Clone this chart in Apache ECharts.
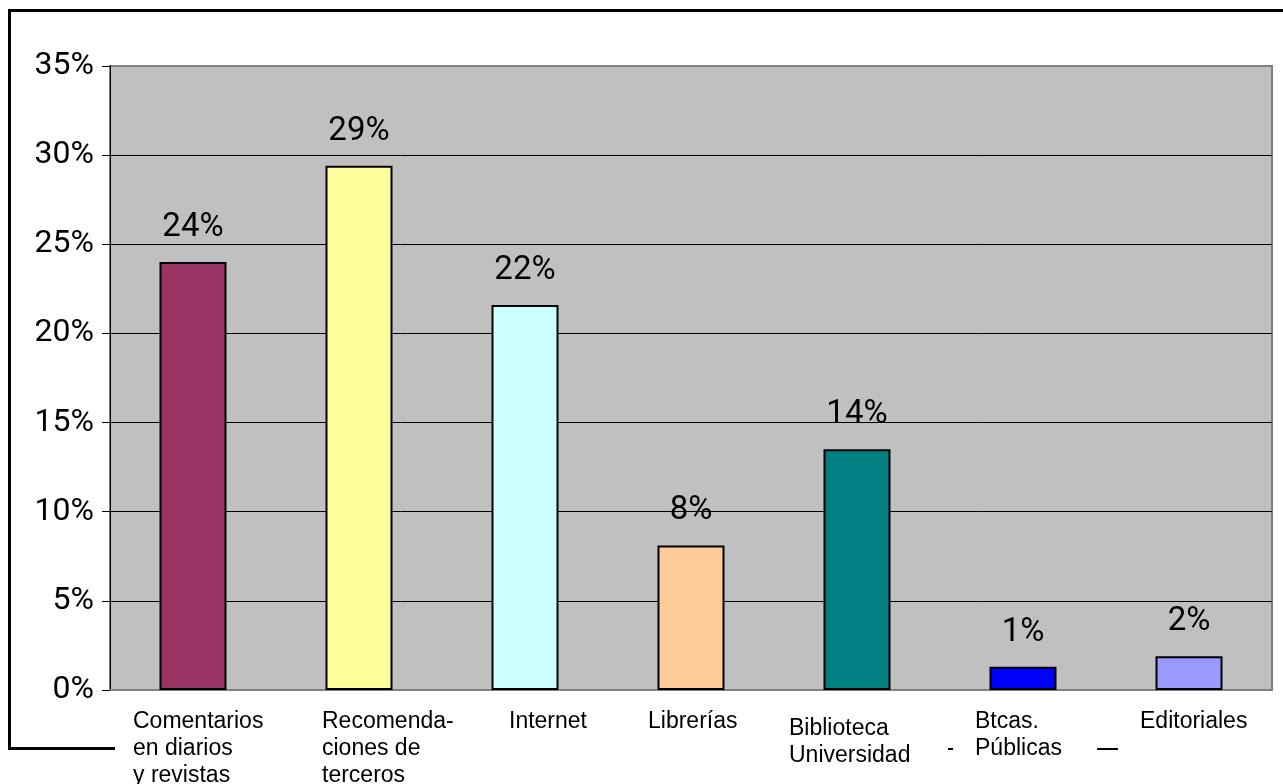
<!DOCTYPE html>
<html>
<head>
<meta charset="utf-8">
<script src="https://cdn.jsdelivr.net/npm/echarts@6/dist/echarts.min.js"></script>
<style>
html,body{margin:0;padding:0;background:#fff;}
#chart{width:1283px;height:784px;}
</style>
</head>
<body>
<div id="chart"></div>
<script>
const categories = [
  'Comentarios\nen diarios\ny revistas',
  'Recomenda-\nciones de\nterceros',
  'Internet',
  'Librerías',
  'Biblioteca\nUniversidad',
  'Btcas.\nPúblicas',
  'Editoriales'
];
const values = [24.0, 29.4, 21.6, 8.1, 13.5, 1.3, 1.9];
const barColors = ['#993366', '#FFFF99', '#CCFFFF', '#FFCC99', '#008080', '#0000FF', '#9999FF'];
const yTicks = [0, 5, 10, 15, 20, 25, 30, 35];

const NUMF = "Roboto, 'Liberation Sans', sans-serif";
const SANS = "'Liberation Sans', Arial, sans-serif";

// per-category left padding to reproduce label placement
const labelPad = [80, 126, 168, 114, 64, 104, 102];
const rich = {};
labelPad.forEach((p, i) => {
  rich['s' + i] = {width: 200, align: 'left', padding: [0, 0, 0, p], fontSize: 23, lineHeight: 27, fontFamily: SANS, color: '#000'};
});
rich.gap = {width: 200 + labelPad[4], fontSize: 1, lineHeight: 7, align: 'left'};

const chart = echarts.init(document.getElementById('chart'));
chart.setOption({
  animation: false,
  backgroundColor: '#ffffff',
  grid: {left: 110, right: 11, top: 66, bottom: 94, show: true, backgroundColor: '#C0C0C0', borderColor: '#808080', borderWidth: 2, outerBoundsMode: 'none', containLabel: false},
  xAxis: {
    type: 'category',
    data: categories,
    axisLine: {lineStyle: {color: '#808080', width: 2}},
    axisTick: {show: false},
    axisLabel: {
      interval: 0,
      hideOverlap: false,
      margin: 18,
      formatter: function (value, index) {
        const lines = value.split('\n').map(l => '{s' + index + '|' + l + '}');
        if (index === 4) lines.unshift('{gap| }');
        return lines.join('\n');
      },
      rich: rich
    }
  },
  yAxis: {
    type: 'value',
    min: yTicks[0],
    max: yTicks[yTicks.length - 1],
    interval: 5,
    axisLine: {show: true, lineStyle: {color: '#000', width: 1}},
    axisTick: {show: true, length: 8, lineStyle: {color: '#000'}},
    axisLabel: {formatter: '{value}%', fontSize: 32, fontFamily: NUMF, color: '#000', margin: 16},
    splitLine: {show: true, lineStyle: {color: ['#808080', '#000', '#000', '#000', '#000', '#000', '#000', '#808080'], width: 1}}
  },
  series: [{
    type: 'bar',
    data: values.map((v, i) => ({value: v, itemStyle: {color: barColors[i]}})),
    barWidth: 67,
    itemStyle: {borderColor: '#000', borderWidth: 2},
    label: {
      show: true,
      position: 'top',
      distance: 18,
      formatter: p => Math.round(p.value) + '%',
      fontSize: 33,
      fontFamily: NUMF,
      color: '#000'
    }
  }],
  graphic: [
    {type: 'line', shape: {x1: 8, y1: 10.5, x2: 1283, y2: 10.5}, style: {stroke: '#000', lineWidth: 3}, silent: true},
    {type: 'line', shape: {x1: 9.5, y1: 9, x2: 9.5, y2: 750}, style: {stroke: '#000', lineWidth: 3}, silent: true},
    {type: 'line', shape: {x1: 8, y1: 748.5, x2: 115, y2: 748.5}, style: {stroke: '#000', lineWidth: 3}, silent: true},
    {type: 'line', shape: {x1: 948, y1: 749, x2: 953, y2: 749}, style: {stroke: '#000', lineWidth: 2}, silent: true},
    {type: 'line', shape: {x1: 1097, y1: 749, x2: 1118, y2: 749}, style: {stroke: '#000', lineWidth: 2}, silent: true}
  ]
});
</script>
</body>
</html>
